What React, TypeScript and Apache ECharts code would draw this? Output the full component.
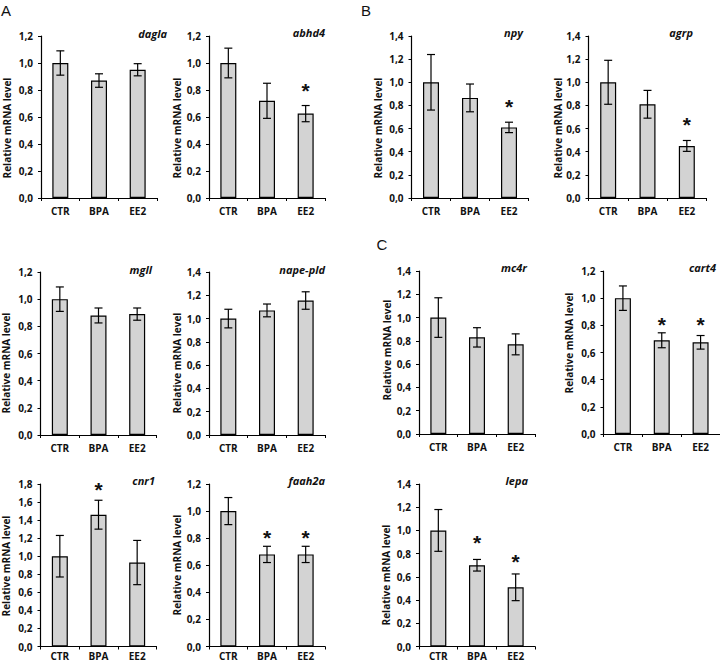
import React, { useEffect, useRef } from "react";
import * as echarts from "echarts";

// ---------- data ----------
const categories = ["CTR", "BPA", "EE2"];
const genes = ["dagla", "abhd4", "npy", "agrp", "mgll", "nape-pld", "mc4r", "cart4", "cnr1", "faah2a", "lepa"];
const yAxisMaxima = [1.2, 1.2, 1.4, 1.4, 1.2, 1.4, 1.4, 1.2, 1.8, 1.2, 1.4];
const yTickStep = 0.2;

const daglaMeans = [1.0, 0.87, 0.95];
const daglaErrors = [0.09, 0.05, 0.045];
const daglaStars: (number | null)[] = [null, null, null];

const abhd4Means = [1.0, 0.72, 0.625];
const abhd4Errors = [0.11, 0.13, 0.06];
const abhd4Stars: (number | null)[] = [null, null, 0.83];

const npyMeans = [1.0, 0.865, 0.61];
const npyErrors = [0.24, 0.12, 0.045];
const npyStars: (number | null)[] = [null, null, 0.83];

const agrpMeans = [1.0, 0.81, 0.45];
const agrpErrors = [0.19, 0.12, 0.047];
const agrpStars: (number | null)[] = [null, null, 0.68];

const mgllMeans = [1.0, 0.88, 0.89];
const mgllErrors = [0.09, 0.055, 0.045];
const mgllStars: (number | null)[] = [null, null, null];

const napePldMeans = [1.0, 1.07, 1.155];
const napePldErrors = [0.08, 0.055, 0.075];
const napePldStars: (number | null)[] = [null, null, null];

const mc4rMeans = [1.0, 0.83, 0.77];
const mc4rErrors = [0.17, 0.083, 0.09];
const mc4rStars: (number | null)[] = [null, null, null];

const cart4Means = [1.0, 0.69, 0.675];
const cart4Errors = [0.09, 0.055, 0.05];
const cart4Stars: (number | null)[] = [null, 0.845, 0.845];

const cnr1Means = [1.0, 1.46, 0.93];
const cnr1Errors = [0.23, 0.16, 0.245];
const cnr1Stars: (number | null)[] = [null, 1.8, null];

const faah2aMeans = [1.0, 0.68, 0.68];
const faah2aErrors = [0.1, 0.06, 0.06];
const faah2aStars: (number | null)[] = [null, 0.844, 0.844];

const lepaMeans = [1.0, 0.7, 0.51];
const lepaErrors = [0.18, 0.05, 0.115];
const lepaStars: (number | null)[] = [null, 0.936, 0.774];

const allMeans = [daglaMeans, abhd4Means, npyMeans, agrpMeans, mgllMeans, napePldMeans, mc4rMeans, cart4Means, cnr1Means, faah2aMeans, lepaMeans];
const allErrors = [daglaErrors, abhd4Errors, npyErrors, agrpErrors, mgllErrors, napePldErrors, mc4rErrors, cart4Errors, cnr1Errors, faah2aErrors, lepaErrors];
const allStars = [daglaStars, abhd4Stars, npyStars, agrpStars, mgllStars, napePldStars, mc4rStars, cart4Stars, cnr1Stars, faah2aStars, lepaStars];

const yAxisTitle = "Relative mRNA level";
const panelLetters = ["A", "B", "C"];

// ---------- layout ----------
// grid: [left, top, width, height]
const gridBoxes = [
  [41, 36, 116, 162],
  [209, 36, 116, 162],
  [411.5, 36, 117, 162],
  [588.5, 36, 118, 162],
  [40.5, 272, 116, 163],
  [209, 272, 116, 163],
  [419, 271, 116, 163],
  [603.5, 271, 117, 163],
  [40.5, 484, 116, 162.5],
  [209, 484, 116, 162.5],
  [419, 484, 116, 162.5],
];
// x label margin per panel
const xLabelMargins = [8, 8, 8, 8, 8, 8, 8, 8, 4, 4, 4];
// gene title: [right x, center y]
const geneTitlePos = [
  [167, 33], [325, 32], [523, 32], [693, 32],
  [152, 269], [325, 269], [527, 267], [716, 267],
  [155, 480], [325, 480], [528, 480],
];
// y axis title center: [x, y]
const yTitlePos = [
  [7, 128], [177, 128], [378, 128], [558, 128],
  [6, 363], [177, 363], [387, 350], [569, 343],
  [6, 566], [177, 565], [386, 575],
];
const letterPos = [[6, 10], [366, 10], [382, 244]];

const FONT = "'Open Sans', Lato, sans-serif";
const fmt = (v: number) => v.toFixed(1).replace(".", ",");

function buildOption() {
  const grid: any[] = [];
  const xAxis: any[] = [];
  const yAxis: any[] = [];
  const series: any[] = [];
  const graphic: any[] = [];

  genes.forEach((gene, i) => {
    const [l, t, w, h] = gridBoxes[i];
    grid.push({ left: l, top: t, width: w, height: h, containLabel: false });
    xAxis.push({
      type: "category",
      gridIndex: i,
      data: categories,
      axisLine: { lineStyle: { color: "#000", width: 1.2 } },
      axisTick: { show: true, alignWithLabel: false, length: 3, inside: false, lineStyle: { color: "#000", width: 1 } },
      axisLabel: { color: "#111", fontFamily: FONT, fontWeight: "bold", fontSize: 10, lineHeight: 10, margin: xLabelMargins[i] },
      splitLine: { show: false },
    });
    yAxis.push({
      type: "value",
      gridIndex: i,
      min: 0,
      max: yAxisMaxima[i],
      interval: yTickStep,
      axisLine: { show: true, lineStyle: { color: "#000", width: 1.2 } },
      axisTick: { show: true, length: 3, lineStyle: { color: "#000", width: 1 } },
      axisLabel: { color: "#111", fontFamily: FONT, fontWeight: "bold", fontSize: 10, margin: 8, formatter: fmt },
      splitLine: { show: false },
    });
    series.push({
      type: "bar",
      xAxisIndex: i,
      yAxisIndex: i,
      data: allMeans[i],
      barWidth: 16,
      itemStyle: { color: "#d3d3d3", borderColor: "#000", borderWidth: 1.2 },
      z: 2,
    });
    series.push({
      type: "custom",
      xAxisIndex: i,
      yAxisIndex: i,
      z: 3,
      itemStyle: { color: "#000" },
      data: allMeans[i].map((m, k) => [k, m, allErrors[i][k]]),
      renderItem: (params: any, api: any) => {
        const x = api.value(0);
        const m = api.value(1);
        const e = api.value(2);
        const top = api.coord([x, m + e]);
        const bot = api.coord([x, m - e]);
        const cap = 4;
        const st = { stroke: "#000", lineWidth: 1.2 };
        return {
          type: "group",
          children: [
            { type: "line", shape: { x1: top[0], y1: top[1], x2: bot[0], y2: bot[1] }, style: st },
            { type: "line", shape: { x1: top[0] - cap, y1: top[1], x2: top[0] + cap, y2: top[1] }, style: st },
            { type: "line", shape: { x1: bot[0] - cap, y1: bot[1], x2: bot[0] + cap, y2: bot[1] }, style: st },
          ],
        };
      },
    });
    const starData = allStars[i]
      .map((s, k) => (s == null ? null : [k, s]))
      .filter((d) => d !== null);
    if (starData.length) {
      series.push({
        type: "custom",
        xAxisIndex: i,
        yAxisIndex: i,
        z: 4,
        itemStyle: { color: "#111" },
        data: starData,
        renderItem: (params: any, api: any) => {
          const p = api.coord([api.value(0), api.value(1)]);
          return {
            type: "text",
            x: p[0],
            y: p[1] + 5,
            style: {
              text: "*",
              align: "center",
              verticalAlign: "middle",
              font: `bold 21px 'Liberation Sans', Arial, sans-serif`,
              fill: "#111",
              stroke: "none",
            },
          };
        },
      });
    }
    graphic.push({
      type: "text",
      x: geneTitlePos[i][0],
      y: geneTitlePos[i][1],
      style: {
        text: gene,
        align: "right",
        verticalAlign: "middle",
        font: `italic bold 11px ${FONT}`,
        fill: "#111",
      },
    });
    graphic.push({
      type: "text",
      x: yTitlePos[i][0],
      y: yTitlePos[i][1],
      rotation: Math.PI / 2,
      style: {
        text: yAxisTitle,
        align: "center",
        verticalAlign: "middle",
        font: `bold 10px ${FONT}`,
        fill: "#111",
      },
    });
  });

  panelLetters.forEach((letter, k) => {
    graphic.push({
      type: "text",
      x: letterPos[k][0],
      y: letterPos[k][1],
      style: {
        text: letter,
        align: "center",
        verticalAlign: "middle",
        font: `15px 'Liberation Sans', Arial, sans-serif`,
        fill: "#111",
      },
    });
  });

  return {
    animation: false,
    backgroundColor: "#fff",
    grid,
    xAxis,
    yAxis,
    series,
    graphic,
  };
}

export default function App() {
  const ref = useRef<HTMLDivElement>(null);
  useEffect(() => {
    document.body.style.margin = "0";
    if (!ref.current) return;
    const chart = echarts.init(ref.current, undefined, { renderer: "svg" });
    chart.setOption(buildOption() as any);
    return () => chart.dispose();
  }, []);
  return <div ref={ref} style={{ width: 720, height: 665 }} />;
}
